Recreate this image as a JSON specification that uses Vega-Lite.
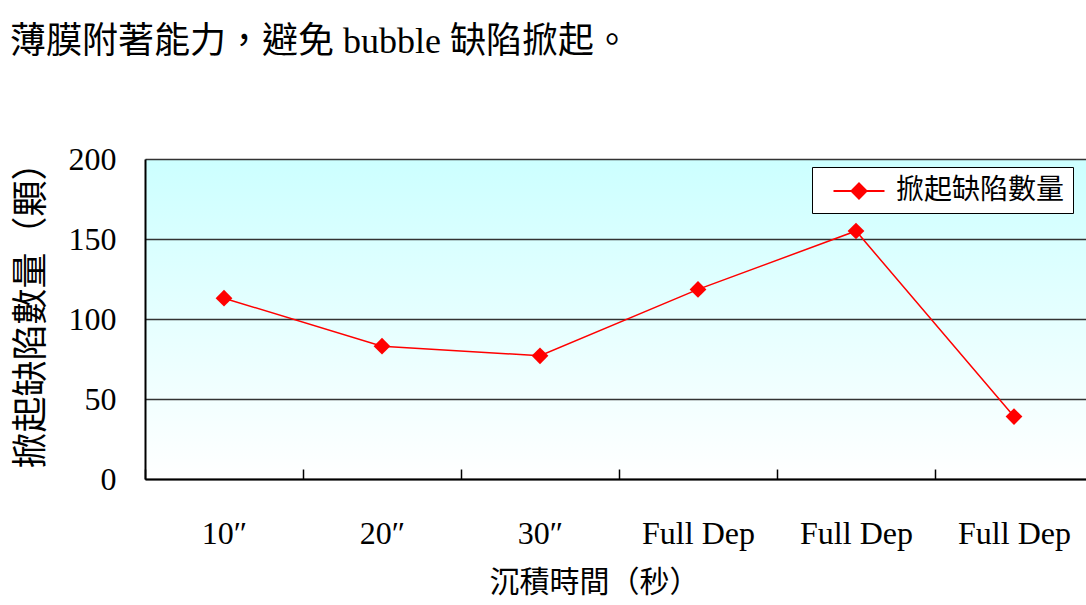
{
  "$schema": "https://vega.github.io/schema/vega-lite/v6.json",
  "autosize": {"type": "none"},
  "padding": {"left": 145, "top": 159, "right": 0, "bottom": 126},
  "width": 941,
  "height": 320,
  "background": "white",
  "view": {
    "fill": {"gradient": "linear", "x1": 0, "y1": 0, "x2": 0, "y2": 1, "stops": [{"offset": 0, "color": "#ccffff"}, {"offset": 1, "color": "#ffffff"}]},
    "stroke": null
  },
  "title": {
    "text": "薄膜附著能力，避免 bubble 缺陷掀起。",
    "anchor": "start",
    "frame": "group",
    "dx": -135,
    "offset": 82,
    "fontSize": 36,
    "font": "'Liberation Serif', 'Noto Sans CJK TC'",
    "fontWeight": "normal",
    "color": "#000000"
  },
  "data": {
    "values": [
      {"key": "10″|1", "value": 113, "series": "掀起缺陷數量"},
      {"key": "20″|2", "value": 83, "series": "掀起缺陷數量"},
      {"key": "30″|3", "value": 77, "series": "掀起缺陷數量"},
      {"key": "Full Dep|4", "value": 118.5, "series": "掀起缺陷數量"},
      {"key": "Full Dep|5", "value": 155, "series": "掀起缺陷數量"},
      {"key": "Full Dep|6", "value": 39, "series": "掀起缺陷數量"}
    ]
  },
  "mark": {
    "type": "line",
    "color": "#ff0000",
    "strokeWidth": 1.5,
    "point": {"shape": "diamond", "size": 280, "filled": true, "color": "#ff0000", "opacity": 1}
  },
  "encoding": {
    "x": {
      "field": "key",
      "type": "nominal",
      "sort": null,
      "scale": {"range": [0, 948], "paddingInner": 0, "paddingOuter": 0},
      "axis": {
        "title": "沉積時間（秒）",
        "titleFont": "Noto Sans CJK TC",
        "titleFontSize": 30,
        "titleFontWeight": "normal",
        "titleColor": "#000000",
        "titlePadding": 18,
        "titleX": 449,
        "labelExpr": "split(datum.label, '|')[0]",
        "labelAngle": 0,
        "labelFont": "Liberation Serif",
        "labelFontSize": 32,
        "labelColor": "#000000",
        "labelPadding": 49,
        "tickBand": "extent",
        "tickSize": -10,
        "tickColor": "#000000",
        "tickWidth": 1.5,
        "domainColor": "#000000",
        "domainWidth": 2,
        "grid": false
      }
    },
    "y": {
      "field": "value",
      "type": "quantitative",
      "scale": {"domain": [0, 200], "nice": false},
      "axis": {
        "title": "掀起缺陷數量（顆）",
        "titleFont": "Noto Sans CJK TC",
        "titleFontSize": 36,
        "titleFontWeight": "normal",
        "titleColor": "#000000",
        "titlePadding": 18,
        "titleY": 147,
        "values": [0, 50, 100, 150, 200],
        "labelFont": "Liberation Serif",
        "labelFontSize": 32,
        "labelColor": "#000000",
        "labelPadding": 29,
        "labelFlush": false,
        "ticks": false,
        "domainColor": "#000000",
        "domainWidth": 2,
        "grid": true,
        "gridColor": "#333333",
        "gridWidth": 1.5,
        "gridOpacity": 1
      }
    },
    "color": {
      "field": "series",
      "type": "nominal",
      "scale": {"range": ["#ff0000"]},
      "legend": {
        "title": null,
        "orient": "none",
        "legendX": 667,
        "legendY": 8,
        "padding": 8,
        "strokeColor": "#000000",
        "fillColor": "#ffffff",
        "labelFont": "Noto Sans CJK TC",
        "labelFontSize": 28,
        "labelColor": "#000000",
        "labelLimit": 400,
        "symbolType": "M-1.7,0H1.7M0,-0.5L0.5,0L0,0.5L-0.5,0Z",
        "symbolSize": 900,
        "symbolStrokeWidth": 2,
        "symbolOffset": 23,
        "labelOffset": 21,
        "encode": {
          "symbols": {
            "update": {
              "fill": {"value": "#ff0000"},
              "stroke": {"value": "#ff0000"},
              "shape": {"value": "M-1.7,0H1.7M0,-0.5L0.5,0L0,0.5L-0.5,0Z"},
              "strokeWidth": {"value": 2},
              "opacity": {"value": 1}
            }
          }
        }
      }
    }
  }
}
